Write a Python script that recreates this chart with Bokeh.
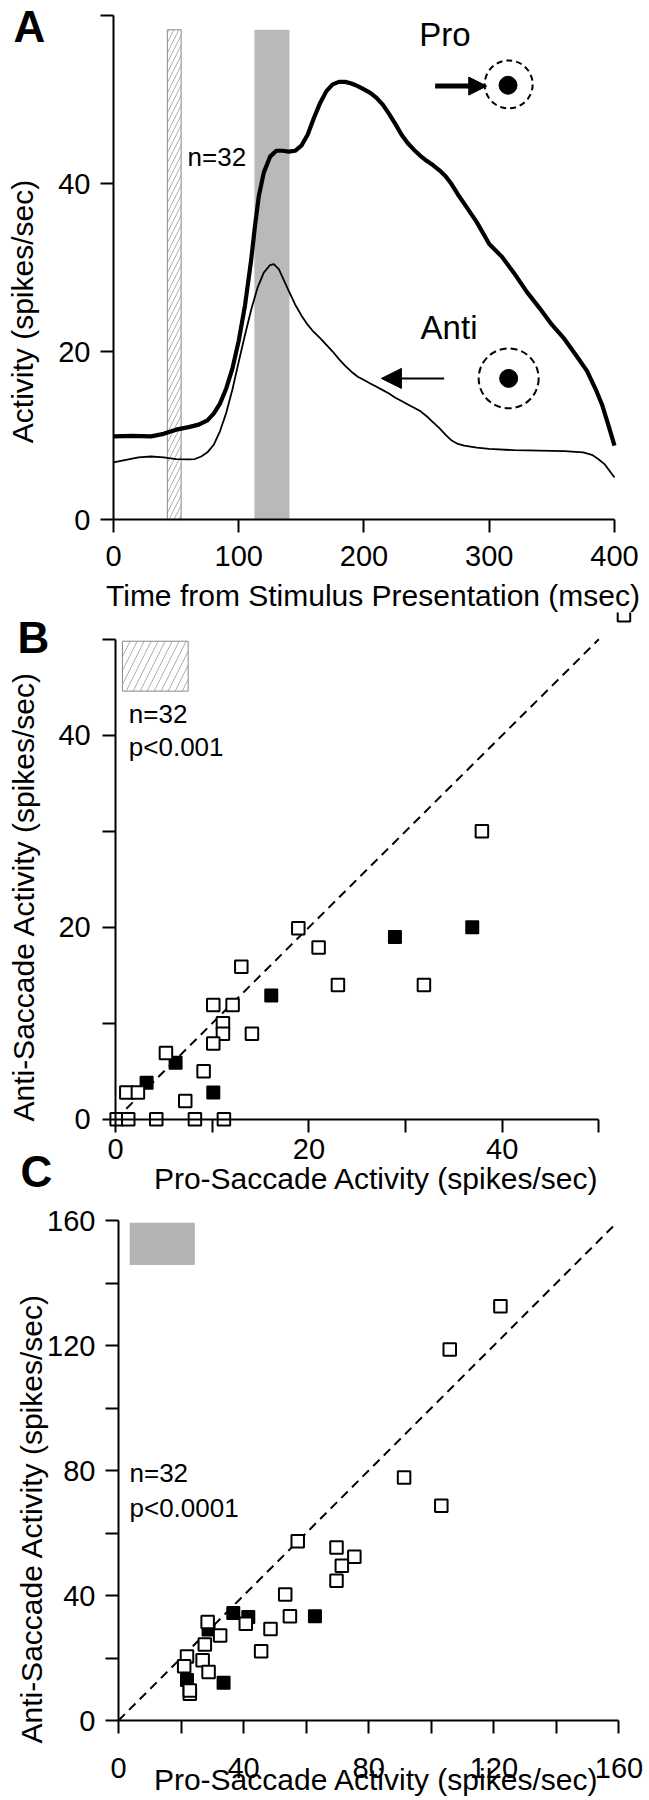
from bokeh.plotting import figure
from bokeh.layouts import column
from bokeh.models import Label, Arrow, NormalHead, FixedTicker, Range1d, LinearAxis
from bokeh.embed import file_html
from bokeh.resources import INLINE

FONT = "Liberation Sans"

# ---------------- Panel A data: population spike density ----------------
time_pro = [0, 15, 30, 40, 50, 60, 68, 75, 80, 85, 90, 95, 100, 105, 110, 113, 116, 120,
            125, 130, 135, 140, 145, 150, 155, 160, 165, 170, 175, 180, 185, 190, 195, 200,
            205, 210, 215, 220, 225, 230, 235, 240, 245, 250, 255, 260, 265, 270, 275, 280,
            290, 300, 310, 320, 330, 340, 350, 360, 370, 378, 385, 390, 395, 400]
rate_pro = [9.9, 9.95, 9.9, 10.2, 10.7, 11.0, 11.3, 11.8, 12.6, 13.8, 15.6, 18.0, 21.3, 25.5,
            31.0, 35.0, 38.5, 41.3, 43.2, 43.9, 43.9, 43.8, 43.9, 44.5, 45.8, 47.8, 49.6, 51.0,
            51.8, 52.1, 52.1, 51.9, 51.6, 51.2, 50.8, 50.2, 49.4, 48.3, 47.1, 45.8, 44.8, 44.0,
            43.3, 42.7, 42.2, 41.6, 40.9, 39.9, 38.7, 37.6, 35.4, 32.8, 31.3, 29.3, 27.1, 25.2,
            23.2, 21.5, 19.4, 17.7, 15.5, 13.7, 11.3, 8.8]
time_anti = [0, 10, 20, 30, 40, 50, 60, 65, 70, 75, 80, 85, 90, 95, 100, 105, 110, 115, 120,
             125, 128, 132, 136, 140, 145, 150, 155, 160, 165, 170, 175, 180, 185, 190, 195,
             200, 205, 210, 215, 220, 225, 230, 235, 240, 245, 250, 255, 260, 265, 270, 275,
             280, 290, 300, 320, 340, 360, 375, 382, 387, 392, 396, 400]
rate_anti = [6.8, 7.1, 7.4, 7.5, 7.4, 7.2, 7.15, 7.2, 7.5, 8.0, 8.9, 10.5, 12.7, 15.5, 18.8,
             22.0, 25.0, 27.6, 29.4, 30.3, 30.4, 29.8, 28.5, 27.2, 25.6, 24.3, 23.2, 22.3, 21.6,
             20.8, 20.0, 19.1, 18.3, 17.6, 17.0, 16.6, 16.2, 15.8, 15.4, 15.0, 14.5, 14.1, 13.7,
             13.3, 12.9, 12.3, 11.6, 10.9, 10.1, 9.4, 9.0, 8.8, 8.55, 8.4, 8.25, 8.2, 8.15, 8.0,
             7.7, 7.2, 6.6, 5.8, 5.0]
epoch_early = [43, 54]        # hatched analysis window (msec)
epoch_late = [112.5, 140.5]   # gray analysis window (msec)
epoch_top = 58.3
a_xticks = [0, 100, 200, 300, 400]
a_yticks = [0, 20, 40, 60]
a_yhide = [60]

# ---------------- Panel B data: early window ----------------
b_pro_open = [52.6, 37.9, 18.9, 21.0, 13.0, 23.0, 31.9, 10.1, 12.1, 11.1, 11.1, 14.1, 10.1,
              5.2, 9.1, 1.1, 2.3, 7.2, 0.1, 1.3, 4.2, 8.2, 11.2]
b_anti_open = [52.5, 30.0, 19.9, 17.9, 15.9, 14.0, 14.0, 11.9, 11.9, 10.0, 8.9, 8.9, 7.9,
               6.9, 5.0, 2.8, 2.8, 1.9, 0.0, 0.0, 0.0, 0.0, 0.0]
b_pro_filled = [36.9, 28.9, 16.1, 6.2, 3.2, 10.1]
b_anti_filled = [20.0, 19.0, 12.9, 5.9, 3.8, 2.8]
b_unity = [0, 50]
b_window = [0.7, 7.5, 44.6, 49.8]   # hatched key box (left, right, bottom, top)
b_ticks = [0, 10, 20, 30, 40, 50]
b_hide = [10, 30, 50]

# ---------------- Panel C data: late window ----------------
c_pro_open = [122.1, 105.9, 91.3, 103.2, 57.3, 69.7, 75.4, 71.4, 69.7, 53.3, 54.8, 48.6,
              45.6, 40.7, 28.5, 32.5, 27.6, 21.9, 21.0, 26.9, 28.8, 22.8, 22.8]
c_anti_open = [132.6, 118.7, 77.8, 68.7, 57.4, 55.4, 52.4, 49.5, 44.7, 40.3, 33.4, 29.3,
               22.2, 31.0, 31.5, 27.2, 24.3, 20.5, 17.4, 19.3, 15.5, 8.6, 9.6]
c_pro_filled = [62.8, 36.7, 41.5, 28.8, 21.9, 33.6]
c_anti_filled = [33.4, 34.4, 33.1, 29.1, 13.0, 12.1]
c_unity = [0, 159]
c_window = [3.6, 24.4, 145.8, 159.3]
c_ticks = [0, 20, 40, 60, 80, 100, 120, 140, 160]
c_hide = [20, 60, 100, 140]

X_TITLE_PRO = "Pro-Saccade Activity (spikes/sec)"
Y_TITLE_ANTI = "Anti-Saccade Activity (spikes/sec)"
W = 648


def make_panel(height, xr, yr):
    p = figure(width=W, height=height, x_range=Range1d(*xr), y_range=Range1d(*yr),
               min_border=0, output_backend="svg", toolbar_location=None)
    p.xgrid.visible = False
    p.ygrid.visible = False
    p.outline_line_color = None
    p.background_fill_color = "white"
    p.border_fill_color = "white"
    return p


def style_axes(p, xticks, yticks, xhide, yhide, xbounds, ybounds, xso, yso):
    for ax, ticks, hide, bounds, so in ((p.xaxis[0], xticks, xhide, xbounds, xso),
                                        (p.yaxis[0], yticks, yhide, ybounds, yso)):
        ax.fixed_location = 0
        ax.ticker = FixedTicker(ticks=ticks)
        ax.major_label_overrides = {t: "" for t in hide}
        ax.bounds = bounds
        ax.axis_line_width = 2
        ax.axis_line_color = "black"
        ax.major_tick_line_width = 2
        ax.major_tick_line_color = "black"
        ax.major_tick_out = 13
        ax.major_tick_in = 0
        ax.minor_tick_out = 0
        ax.minor_tick_in = 0
        ax.major_label_text_font = FONT
        ax.major_label_text_font_size = "29px"
        ax.major_label_text_color = "black"
        ax.major_label_standoff = so


def add_y_title(p, text, bounds, standoff):
    # label-only axis, used to place the rotated y title
    ax = LinearAxis(fixed_location=0, bounds=bounds, ticker=FixedTicker(ticks=[]),
                    axis_line_color=None, major_tick_line_color=None,
                    minor_tick_line_color=None, major_tick_out=0, major_tick_in=0,
                    minor_tick_out=0, minor_tick_in=0, major_label_standoff=0,
                    major_label_text_font_size="1px",
                    axis_label=text, axis_label_standoff=standoff, axis_label_text_font=FONT,
                    axis_label_text_font_size="30px", axis_label_text_font_style="normal",
                    axis_label_text_color="black")
    p.add_layout(ax, "left")


def add_text(p, x, y, text, size, bold=False, baseline="middle"):
    p.add_layout(Label(x=x, y=y, text=text, text_font=FONT, text_font_size=size,
                       text_font_style="bold" if bold else "normal",
                       text_align="left", text_baseline=baseline, text_color="black"))


def add_ctext(p, x, y, text, size):
    p.add_layout(Label(x=x, y=y, text=text, text_font=FONT, text_font_size=size,
                       text_align="center", text_baseline="middle", text_color="black"))


# ================= Panel A =================
pA = make_panel(612, (-90.22, 427.15), (-11.07, 61.79))
style_axes(pA, a_xticks, a_yticks, [], a_yhide, (0, 400), (0, 60), 13, 10)
add_y_title(pA, "Activity (spikes/sec)", (0, 49.52), 75)

pA.quad(left=[epoch_early[0]], right=[epoch_early[1]], bottom=[0], top=[epoch_top],
        fill_color="white", line_color="#8a8a8a", line_width=1,
        hatch_pattern="/", hatch_color="#9a9a9a", hatch_weight=0.8, hatch_scale=10)
pA.quad(left=[epoch_late[0]], right=[epoch_late[1]], bottom=[0], top=[epoch_top],
        fill_color="#b9b9b9", line_color=None)
pA.line(time_anti, rate_anti, line_color="black", line_width=1.8)
pA.line(time_pro, rate_pro, line_color="black", line_width=4.2)

add_text(pA, 59.1, 43.1, "n=32", "26px")
add_text(pA, 244.2, 57.8, "Pro", "33px")
add_text(pA, 245.2, 22.9, "Anti", "33px")
pA.add_layout(Arrow(end=NormalHead(size=18, fill_color="black", line_color="black", line_width=1),
                    x_start=256.8, y_start=51.6, x_end=298, y_end=51.6,
                    line_width=5, line_color="black"))
pA.add_layout(Arrow(end=NormalHead(size=20, fill_color="black", line_color="black", line_width=1),
                    x_start=264, y_start=16.8, x_end=213.9, y_end=16.8,
                    line_width=2, line_color="black"))
pA.scatter([315.5], [51.8], marker="circle", size=48, fill_color=None, line_color="black",
           line_width=2, line_dash="6 4")
pA.scatter([315.0], [51.7], marker="circle", size=18, fill_color="black", line_color="black")
pA.scatter([315.5], [16.8], marker="circle", size=60, fill_color=None, line_color="black",
           line_width=2, line_dash="7 4")
pA.scatter([315.5], [16.8], marker="circle", size=18, fill_color="black", line_color="black")

add_text(pA, -79.8, 61.6, "A", "44px", bold=True, baseline="top")
add_ctext(pA, 207.2, -9.0, "Time from Stimulus Presentation (msec)", "30px")

# ================= Panel B =================
pB = make_panel(591, (-11.92, 55.14), (-8.77, 52.79))
style_axes(pB, b_ticks, b_ticks, b_hide, b_hide, (0, 50), (0, 50), 7, 12)
add_y_title(pB, Y_TITLE_ANTI, (0, 46.42), 76)

pB.quad(left=[b_window[0]], right=[b_window[1]], bottom=[b_window[2]], top=[b_window[3]],
        fill_color="white", line_color="#8a8a8a", line_width=1,
        hatch_pattern="/", hatch_color="#9a9a9a", hatch_weight=0.8, hatch_scale=14)
pB.line(b_unity, b_unity, line_color="black", line_width=2, line_dash="9 6")
pB.scatter(b_pro_filled, b_anti_filled, marker="square", size=12.5, fill_color="black",
           line_color="black", line_width=1.5)
pB.scatter(b_pro_open, b_anti_open, marker="square", size=12.5, fill_color="white",
           line_color="black", line_width=2)

add_text(pB, 1.36, 42.17, "n=32", "26px")
add_text(pB, 1.36, 38.83, "p<0.001", "26px")
add_text(pB, -10.16, 52.72, "B", "44px", bold=True, baseline="top")
add_ctext(pB, 26.99, -6.13, X_TITLE_PRO, "30px")
add_text(pB, -9.85, -5.44, "C", "44px", bold=True)

# ================= Panel C =================
pC = make_panel(595, (-37.72, 169.44), (-24.96, 165.44))
style_axes(pC, c_ticks, c_ticks, c_hide, c_hide, (0, 160), (0, 160), 24, 10)
add_y_title(pC, Y_TITLE_ANTI, (0, 129.28), 71)

pC.quad(left=[c_window[0]], right=[c_window[1]], bottom=[c_window[2]], top=[c_window[3]],
        fill_color="#b4b4b4", line_color=None)
pC.line(c_unity, c_unity, line_color="black", line_width=2, line_dash="9 6")
pC.scatter(c_pro_filled, c_anti_filled, marker="square", size=12.5, fill_color="black",
           line_color="black", line_width=1.5)
pC.scatter(c_pro_open, c_anti_open, marker="square", size=12.5, fill_color="white",
           line_color="black", line_width=2)

add_text(pC, 3.52, 79.1, "n=32", "26px")
add_text(pC, 3.52, 68.03, "p<0.0001", "26px")
add_ctext(pC, 82.48, -18.75, X_TITLE_PRO, "30px")

layout = column(pA, pB, pC, spacing=0)
open("out.html", "w").write(file_html(layout, INLINE))
